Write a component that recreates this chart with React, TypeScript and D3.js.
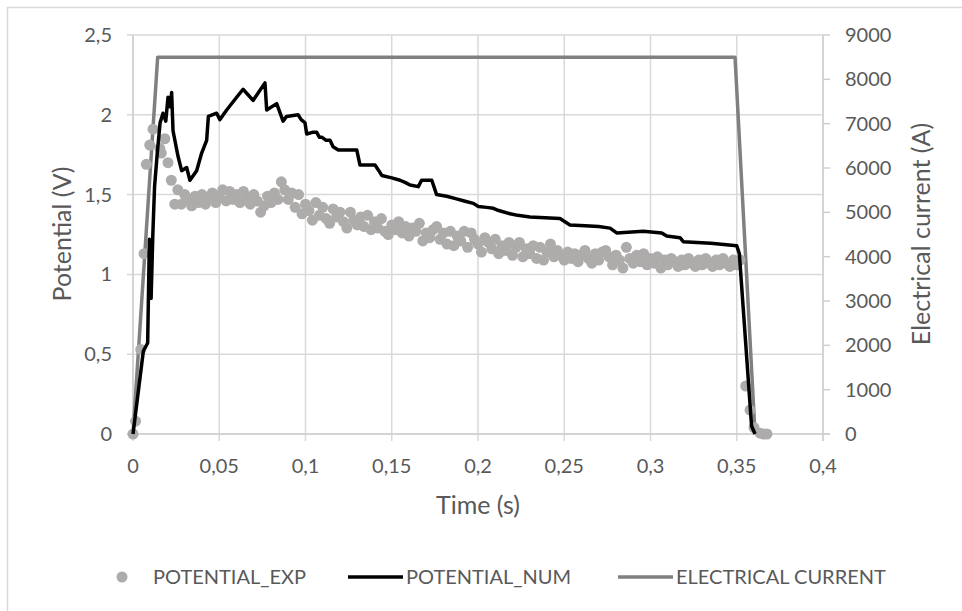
import React from "react";
import * as d3 from "d3";

const xTicks = [0, 0.05, 0.1, 0.15, 0.2, 0.25, 0.3, 0.35, 0.4];
const yLeftTicks = [0, 0.5, 1, 1.5, 2, 2.5];
const yRightTicks = [0, 1000, 2000, 3000, 4000, 5000, 6000, 7000, 8000, 9000];

const currentT = [0, 0.0143, 0.349, 0.3606];
const currentA = [0, 8500, 8500, 0];

const numT = [0, 0.006, 0.0085, 0.0095, 0.0105, 0.0115, 0.0125, 0.014, 0.0157, 0.0174, 0.019, 0.0203, 0.0215, 0.0224, 0.0232, 0.0261, 0.0282, 0.0311, 0.033, 0.0369, 0.0398, 0.0427, 0.0437, 0.0485, 0.0504, 0.0543, 0.0601, 0.0638, 0.0696, 0.0765, 0.0775, 0.0833, 0.087,
  0.089, 0.0957, 0.0975, 0.0997, 0.1007, 0.104, 0.1065, 0.108, 0.1094, 0.112, 0.1142, 0.116, 0.119, 0.1297, 0.1316, 0.1403, 0.1425, 0.1442, 0.15, 0.1548, 0.158, 0.1606, 0.1654, 0.1673, 0.1732, 0.176, 0.1818, 0.187, 0.192, 0.1973, 0.2002, 0.205, 0.2089, 0.212, 0.2186, 0.223, 0.2301, 0.2475, 0.2533, 0.262, 0.27, 0.2765, 0.2804, 0.2958, 0.3065, 0.3094, 0.3171, 0.319, 0.335, 0.35, 0.3515, 0.3586, 0.3606];
const numV = [0, 0.52, 0.57, 1.22, 0.85, 1.25, 1.55, 1.75, 1.95, 2.01, 1.96, 2.11, 2.05, 2.14, 1.9, 1.74, 1.65, 1.67, 1.59, 1.65, 1.76, 1.84, 1.99, 2.01, 1.97, 2.03, 2.11, 2.16, 2.09, 2.2, 2.03, 2.07, 1.96,
  1.99, 2.0, 1.97, 1.95, 1.88, 1.89, 1.89, 1.86, 1.86, 1.84, 1.84, 1.8, 1.78, 1.78, 1.685, 1.685, 1.65, 1.62, 1.605, 1.59, 1.575, 1.56, 1.55, 1.59, 1.59, 1.5, 1.49, 1.475, 1.46, 1.445, 1.425, 1.42, 1.414, 1.4, 1.38, 1.37, 1.36, 1.35, 1.31, 1.305, 1.3, 1.29, 1.26, 1.27, 1.26, 1.24, 1.23, 1.205, 1.195, 1.18, 1.13, 0.05, 0];

const expT = [0, 0.0015, 0.0045, 0.0064, 0.0077, 0.0097, 0.0116, 0.0155, 0.0164, 0.0184, 0.0203, 0.0222, 0.0242, 0.026,
  0.028, 0.03, 0.032, 0.034, 0.036, 0.038, 0.04, 0.042, 0.044, 0.046, 0.048, 0.05, 0.052, 0.054, 0.056, 0.058, 0.06, 0.062, 0.064, 0.066, 0.068, 0.07, 0.072, 0.074, 0.076, 0.078, 0.08, 0.082, 0.084, 0.086, 0.088, 0.09,
  0.092, 0.094, 0.096, 0.098, 0.1, 0.102, 0.104, 0.106, 0.108, 0.11, 0.112, 0.114, 0.116, 0.118, 0.12, 0.122, 0.124, 0.126, 0.128, 0.13, 0.132, 0.134, 0.136, 0.138, 0.14, 0.142, 0.144, 0.146, 0.148, 0.15,
  0.152, 0.154, 0.156, 0.158, 0.16, 0.162, 0.164, 0.166, 0.168, 0.17, 0.172, 0.174, 0.176, 0.178, 0.18, 0.182, 0.184, 0.186, 0.188, 0.19, 0.192, 0.194, 0.196, 0.198, 0.2,
  0.202, 0.204, 0.206, 0.208, 0.21, 0.212, 0.214, 0.216, 0.218, 0.22, 0.222, 0.224, 0.226, 0.228, 0.23, 0.232, 0.234, 0.236, 0.238, 0.24, 0.242, 0.244, 0.246, 0.248, 0.25,
  0.252, 0.254, 0.256, 0.258, 0.26, 0.262, 0.264, 0.266, 0.268, 0.27, 0.272, 0.274, 0.276, 0.278, 0.28, 0.282, 0.284, 0.286, 0.288, 0.29, 0.292, 0.294, 0.296, 0.298, 0.3,
  0.302, 0.304, 0.306, 0.308, 0.31, 0.312, 0.314, 0.316, 0.318, 0.32, 0.322, 0.324, 0.326, 0.328, 0.33, 0.332, 0.334, 0.336, 0.338, 0.34, 0.342, 0.344, 0.346, 0.348, 0.35, 0.352,
  0.3552, 0.3577, 0.36, 0.3635, 0.3655, 0.3675];
const expV = [0, 0.08, 0.53, 1.13, 1.69, 1.81, 1.91, 1.79, 1.76, 1.85, 1.7, 1.59, 1.44, 1.53,
  1.44, 1.5, 1.47, 1.43, 1.49, 1.45, 1.5, 1.44, 1.48, 1.51, 1.45, 1.49, 1.53, 1.46, 1.52, 1.47, 1.5, 1.45, 1.52, 1.48, 1.44, 1.5, 1.46, 1.39, 1.43, 1.49, 1.45, 1.51, 1.47, 1.58, 1.53, 1.47,
  1.51, 1.42, 1.5, 1.38, 1.44, 1.4, 1.34, 1.45, 1.37, 1.42, 1.35, 1.32, 1.41, 1.36, 1.39, 1.33, 1.29, 1.39, 1.34, 1.31, 1.36, 1.3, 1.37, 1.28, 1.33, 1.29, 1.35, 1.27, 1.25, 1.31,
  1.28, 1.33, 1.26, 1.3, 1.24, 1.29, 1.27, 1.32, 1.21, 1.26, 1.23, 1.28, 1.3, 1.22, 1.26, 1.19, 1.27, 1.18, 1.24, 1.21, 1.27, 1.17, 1.26, 1.22, 1.19,
  1.14, 1.23, 1.2, 1.16, 1.22, 1.13, 1.18, 1.15, 1.2, 1.12, 1.17, 1.2, 1.11, 1.16, 1.13, 1.18, 1.1, 1.17, 1.09, 1.14, 1.19, 1.11, 1.15, 1.12, 1.09,
  1.14, 1.1, 1.13, 1.08, 1.12, 1.15, 1.1, 1.07, 1.13, 1.09, 1.14, 1.15, 1.11, 1.06, 1.12, 1.09, 1.04, 1.17, 1.1, 1.07, 1.12, 1.08, 1.13, 1.06, 1.1,
  1.07, 1.11, 1.04, 1.09, 1.06, 1.1, 1.08, 1.05, 1.09, 1.06, 1.1, 1.07, 1.05, 1.09, 1.06, 1.1, 1.07, 1.05, 1.09, 1.06, 1.1, 1.07, 1.05, 1.09, 1.06, 1.09,
  0.3, 0.15, 0.04, 0.005, 0, 0];

const W = 962;
const H = 611;
const FONT = "Lato, 'Open Sans', sans-serif";
const TXT = "#595959";
const GRID = "#d9d9d9";

export default function App() {
  const x = d3.scaleLinear().domain([0, 0.4]).range([133, 823]);
  const yL = d3.scaleLinear().domain([0, 2.5]).range([434, 35]);
  const yR = d3.scaleLinear().domain([0, 9000]).range([434, 35]);

  const numData = numT.map((t, i) => [t, numV[i]] as [number, number]);
  const curData = currentT.map((t, i) => [t, currentA[i]] as [number, number]);
  const expData = expT.map((t, i) => [t, expV[i]] as [number, number]);

  const lineL = d3.line<[number, number]>().x((d) => x(d[0])).y((d) => yL(d[1]));
  const lineR = d3.line<[number, number]>().x((d) => x(d[0])).y((d) => yR(d[1]));

  const [x0, x1] = x.range();
  const [yb, yt] = yL.range();

  return (
    <svg width={W} height={H} style={{ position: "absolute", left: 0, top: 0, background: "#fff" }} fontFamily={FONT}>
      <rect x={7.5} y={7.5} width={W + 10} height={H + 10} fill="#fff" stroke={GRID} strokeWidth={1.5} />
      {xTicks.map((t) => (
        <line key={"gx" + t} x1={x(t)} x2={x(t)} y1={yt} y2={yb + 7} stroke={GRID} strokeWidth={1.5} />
      ))}
      {yLeftTicks.map((v) => (
        <line key={"gy" + v} x1={x0 - 6} x2={x1} y1={yL(v)} y2={yL(v)} stroke={GRID} strokeWidth={1.5} />
      ))}
      <line x1={x0} x2={x0} y1={yt} y2={yb} stroke="#cfcfcf" strokeWidth={1.5} />
      <line x1={x1} x2={x1} y1={yt} y2={yb + 7} stroke="#cfcfcf" strokeWidth={1.5} />
      <line x1={x0 - 6} x2={x1 + 7} y1={yb} y2={yb} stroke="#cfcfcf" strokeWidth={1.5} />
      {yRightTicks.map((v) => (
        <line key={"rt" + v} x1={x1} x2={x1 + 7} y1={yR(v)} y2={yR(v)} stroke="#cfcfcf" strokeWidth={1.5} />
      ))}
      {yLeftTicks.map((v) => (
        <text key={"lt" + v} x={112} y={yL(v)} dy="0.35em" textAnchor="end" fontSize={20} fill={TXT}>
          {String(v).replace(".", ",")}
        </text>
      ))}
      {yRightTicks.map((v) => (
        <text key={"rl" + v} x={845} y={yR(v)} dy="0.35em" textAnchor="start" fontSize={20} fill={TXT}>
          {v}
        </text>
      ))}
      {xTicks.map((t) => (
        <text key={"xl" + t} x={x(t)} y={466} dy="0.35em" textAnchor="middle" fontSize={20} fill={TXT}>
          {String(t).replace(".", ",")}
        </text>
      ))}
      <text x={478} y={505} dy="0.35em" textAnchor="middle" fontSize={25} fill={TXT}>Time (s)</text>
      <text transform={`translate(62,234) rotate(-90)`} dy="0.35em" textAnchor="middle" fontSize={25} fill={TXT}>Potential (V)</text>
      <text transform={`translate(921,234) rotate(-90)`} dy="0.35em" textAnchor="middle" fontSize={25} fill={TXT}>Electrical current (A)</text>
      <path d={lineR(curData) || ""} fill="none" stroke="#808080" strokeWidth={3.5} strokeLinejoin="round" />
      {expData.map((d, i) => (
        <circle key={"e" + i} cx={x(d[0])} cy={yL(d[1])} r={5.5} fill="#AEABAB" />
      ))}
      <path d={lineL(numData) || ""} fill="none" stroke="#000" strokeWidth={3.5} strokeLinejoin="round" />
      <circle cx={122} cy={577} r={5.5} fill="#AEABAB" />
      <text x={153} y={577} dy="0.35em" fontSize={20} fill={TXT}>POTENTIAL_EXP</text>
      <line x1={348} x2={403} y1={577} y2={577} stroke="#000" strokeWidth={3.5} />
      <text x={406} y={577} dy="0.35em" fontSize={20} fill={TXT}>POTENTIAL_NUM</text>
      <line x1={618} x2={673} y1={577} y2={577} stroke="#808080" strokeWidth={3.5} />
      <text x={676} y={577} dy="0.35em" fontSize={20} fill={TXT}>ELECTRICAL CURRENT</text>
    </svg>
  );
}
